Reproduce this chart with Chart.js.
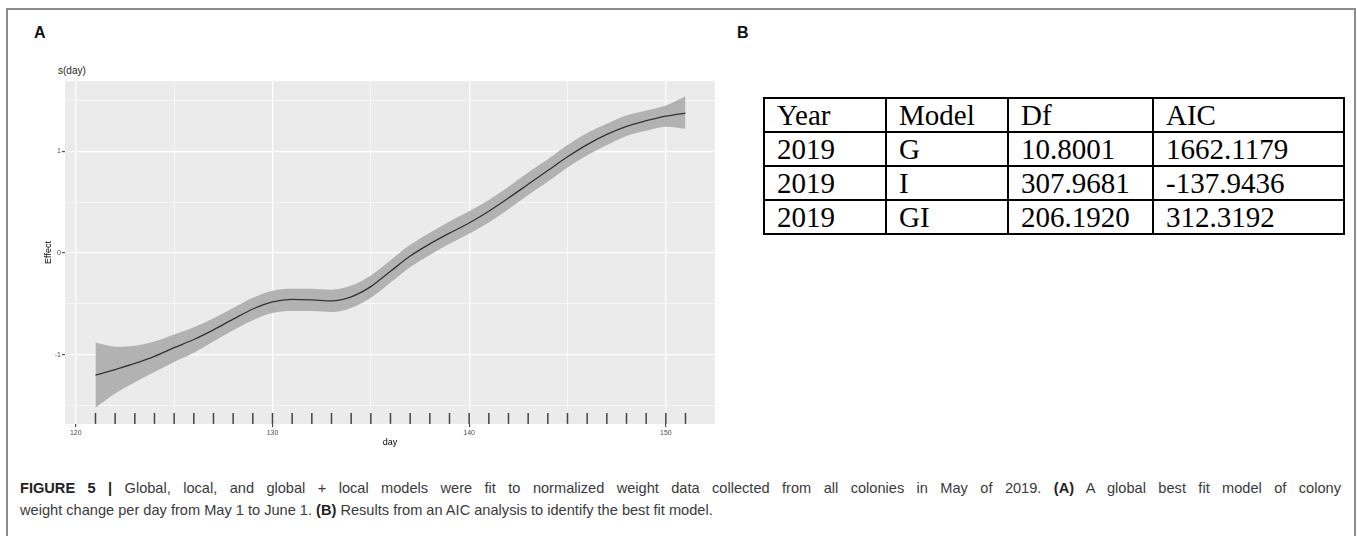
<!DOCTYPE html>
<html>
<head>
<meta charset="utf-8">
<script src="https://cdn.jsdelivr.net/npm/chart.js@4.4.1/dist/chart.umd.min.js"></script>
<style>
  html, body { margin: 0; padding: 0; background: #fff; }
  body { width: 1357px; height: 536px; position: relative; overflow: hidden; font-family: 'Liberation Sans', Arial, sans-serif; }
  .frame { position: absolute; left: 6px; top: 8px; width: 1346px; height: 620px; border: 2px solid #8c8c8c; border-bottom: none; }
  .panel-label { position: absolute; top: 24px; font-weight: bold; font-size: 16px; color: #111; }
  .smooth-label { position: absolute; left: 58px; top: 65px; font-size: 10px; color: #222; }
  #gam { position: absolute; left: 0; top: 0; }
  table.aic { position: absolute; left: 763px; top: 97px; border-collapse: collapse; font-family: 'Liberation Serif', 'Times New Roman', serif; font-size: 29px; color: #000; }
  table.aic td { border: 2px solid #000; height: 32px; padding: 0 0 0 12px; vertical-align: middle; line-height: 1; }
  .caption { position: absolute; left: 20px; top: 477px; width: 1321px; font-size: 14.6px; line-height: 22px; color: #3a3a3a; }
  .caption .l1 { text-align: justify; text-align-last: justify; white-space: nowrap; }
  .caption b { color: #222; }
</style>
</head>
<body>
<div class="frame"></div>
<div class="panel-label" style="left:34px">A</div>
<div class="panel-label" style="left:737px">B</div>
<div class="smooth-label">s(day)</div>
<canvas id="gam" width="730" height="460"></canvas>
<table class="aic" id="aic"></table>
<div class="caption">
  <div class="l1"><b>FIGURE 5 |</b> Global, local, and global + local models were fit to normalized weight data collected from all colonies in May of 2019. <b>(A)</b> A global best fit model of colony</div>
  <div>weight change per day from May 1 to June 1. <b>(B)</b> Results from an AIC analysis to identify the best fit model.</div>
</div>
<script>
// smooth term s(day) with its confidence band
const days  = [121,122,123,124,125,126,127,128,129,130,131,132,133,134,135,136,137,138,139,140,141,142,143,144,145,146,147,148,149,150,151];
const fit   = [-1.20,-1.145,-1.085,-1.015,-0.93,-0.85,-0.755,-0.65,-0.55,-0.48,-0.455,-0.46,-0.47,-0.43,-0.33,-0.18,-0.03,0.09,0.195,0.295,0.41,0.54,0.675,0.81,0.945,1.065,1.165,1.245,1.30,1.345,1.375];
const upper = [-0.88,-0.92,-0.91,-0.87,-0.80,-0.73,-0.64,-0.54,-0.44,-0.37,-0.35,-0.35,-0.36,-0.32,-0.22,-0.07,0.08,0.20,0.31,0.41,0.52,0.65,0.79,0.92,1.06,1.18,1.27,1.35,1.40,1.45,1.54];
const lower = [-1.52,-1.38,-1.27,-1.17,-1.07,-0.98,-0.87,-0.76,-0.66,-0.59,-0.57,-0.57,-0.58,-0.54,-0.44,-0.29,-0.14,-0.02,0.09,0.19,0.30,0.43,0.57,0.70,0.84,0.96,1.06,1.15,1.20,1.24,1.22];

// rug of observed days
const rugDays = [121,122,123,124,125,126,127,128,129,130,131,132,133,134,135,136,137,138,139,140,141,142,143,144,145,146,147,148,149,150,151];
const rugLevel = -1.625;

const xMajor = [120, 130, 140, 150];
const xMinor = [125, 135, 145];
const yMajor = [-1, 0, 1];
const yMinor = [-1.5, -0.5, 0.5, 1.5];

// table B
const tableHeader = ['Year', 'Model', 'Df', 'AIC'];
const years  = ['2019', '2019', '2019'];
const models = ['G', 'I', 'GI'];
const dfs    = ['10.8001', '307.9681', '206.1920'];
const aics   = ['1662.1179', '-137.9436', '312.3192'];
const colWidths = [122, 122, 145, 191];

const tbl = document.getElementById('aic');
function addRow(cells) {
  const tr = document.createElement('tr');
  cells.forEach((c, i) => {
    const td = document.createElement('td');
    td.textContent = c;
    td.style.width = (colWidths[i] - 14) + 'px';
    tr.appendChild(td);
  });
  tbl.appendChild(tr);
}
addRow(tableHeader);
years.forEach((y, i) => addRow([y, models[i], dfs[i], aics[i]]));

const pts = arr => days.map((d, i) => ({ x: d, y: arr[i] }));
const isMajor = (v, list) => list.some(m => Math.abs(m - v) < 1e-6);

const panelBg = {
  id: 'panelBg',
  beforeDraw(chart) {
    const { ctx, chartArea: a } = chart;
    ctx.save();
    ctx.fillStyle = '#ebebeb';
    ctx.fillRect(a.left, a.top, a.right - a.left, a.bottom - a.top);
    ctx.restore();
  }
};

const gridStyle = majors => ({
  color: '#ffffff',
  lineWidth: c => (c.tick && isMajor(c.tick.value, majors) ? 1.3 : 0.6),
  tickColor: c => (c.tick && isMajor(c.tick.value, majors) ? '#333333' : 'rgba(0,0,0,0)'),
  tickLength: 3,
  tickWidth: 1
});

new Chart(document.getElementById('gam'), {
  type: 'line',
  data: {
    datasets: [
      {
        label: 'upper', data: pts(upper), order: 4,
        borderWidth: 0, pointRadius: 0, fill: '+1',
        backgroundColor: 'rgb(178,178,178)', cubicInterpolationMode: 'monotone'
      },
      {
        label: 'lower', data: pts(lower), order: 3,
        borderWidth: 0, pointRadius: 0, fill: false,
        cubicInterpolationMode: 'monotone'
      },
      {
        label: 's(day)', data: pts(fit), order: 2,
        borderColor: '#333333', borderWidth: 1.3, pointRadius: 0, fill: false,
        cubicInterpolationMode: 'monotone'
      },
      {
        type: 'scatter', label: 'rug', order: 1,
        data: rugDays.map(d => ({ x: d, y: rugLevel })),
        pointStyle: 'line', rotation: 90, radius: 5.5,
        borderColor: '#444444', borderWidth: 1.5, showLine: false
      }
    ]
  },
  options: {
    responsive: false,
    animation: false,
    devicePixelRatio: 1,
    layout: { padding: { left: 0, top: 81, right: 15, bottom: 0 } },
    plugins: { legend: { display: false }, tooltip: { enabled: false } },
    scales: {
      x: {
        type: 'linear', min: 119.45, max: 152.5,
        afterFit: s => { s.height = 36; },
        afterBuildTicks: s => { s.ticks = xMajor.concat(xMinor).sort((a, b) => a - b).map(v => ({ value: v })); },
        border: { display: false },
        grid: gridStyle(xMajor),
        ticks: {
          padding: 2, color: '#4d4d4d', maxRotation: 0, autoSkip: false,
          font: { family: 'Liberation Sans', size: 7 },
          callback: v => (isMajor(v, xMajor) ? String(v) : '')
        },
        title: {
          display: true, text: 'day', color: '#000',
          font: { family: 'Liberation Sans', size: 9 }, padding: { bottom: 12 }
        }
      },
      y: {
        type: 'linear', min: -1.68, max: 1.69,
        afterFit: s => { s.width = 65; },
        afterBuildTicks: s => { s.ticks = yMajor.concat(yMinor).sort((a, b) => a - b).map(v => ({ value: v })); },
        border: { display: false },
        grid: gridStyle(yMajor),
        ticks: {
          padding: 1, color: '#4d4d4d', autoSkip: false,
          font: { family: 'Liberation Sans', size: 7 },
          callback: v => (isMajor(v, yMajor) ? String(v) : '')
        },
        title: {
          display: true, text: 'Effect', color: '#000',
          font: { family: 'Liberation Sans', size: 9 }, padding: { top: 43 }
        }
      }
    }
  },
  plugins: [panelBg]
});
</script>
</body>
</html>
